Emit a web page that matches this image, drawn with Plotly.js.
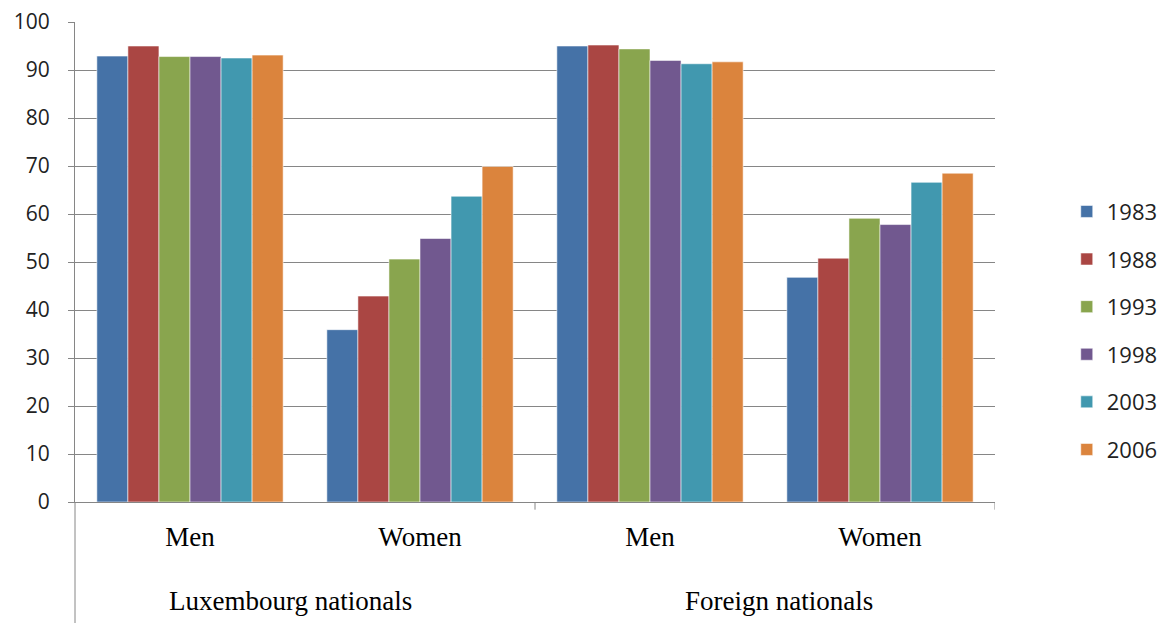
<!DOCTYPE html>
<html>
<head>
<meta charset="utf-8">
<script src="https://cdn.plot.ly/plotly-3.0.1.min.js"></script>
<style>html,body{margin:0;padding:0;background:#fff;}#chart{width:1159px;height:623px;}</style>
</head>
<body>
<div id="chart"></div>
<script>
const groups = ["Luxembourg nationals", "Foreign nationals"];
const genders = ["Men", "Women"];
const years = ["1983", "1988", "1993", "1998", "2003", "2006"];
// values per year: [Lux Men, Lux Women, Foreign Men, Foreign Women]
const v1983 = [92.9, 35.9, 95.0, 46.8];
const v1988 = [95.0, 42.9, 95.2, 50.8];
const v1993 = [92.8, 50.6, 94.4, 59.1];
const v1998 = [92.8, 54.9, 92.0, 57.8];
const v2003 = [92.5, 63.7, 91.3, 66.6];
const v2006 = [93.1, 69.9, 91.7, 68.5];
const seriesValues = [v1983, v1988, v1993, v1998, v2003, v2006];
const colors = ["#4572A7", "#AA4643", "#89A54E", "#71588F", "#4198AF", "#DB843D"];

const xKeys = [];
const xText = [];
groups.forEach(g => genders.forEach(s => { xKeys.push(g + " | " + s); xText.push(s); }));

const traces = years.map((y, i) => ({
  type: "bar",
  name: y,
  x: xKeys,
  y: seriesValues[i],
  legendgroup: "g" + i,
  marker: { color: colors[i], line: { color: "rgba(255,255,255,0.55)", width: 1 } },
  hoverinfo: "x+y+name"
}));

const axisGray = "#868686";
const shapes = [];
// extended left axis line
shapes.push({ type: "line", xref: "paper", yref: "paper", x0: 0, x1: 0, y0: 0, y1: -0.26, line: { color: axisGray, width: 1 } });
// short ticks at group boundaries
groups.forEach((g, gi) => {
  const b = (gi + 1) * genders.length - 0.5;
  shapes.push({ type: "line", xref: "x", yref: "paper", x0: b, x1: b, y0: 0, y1: -0.016, line: { color: axisGray, width: 1 } });
});

const groupShift = [-15, 14];
const annotations = groups.map((g, gi) => ({
  text: g,
  xref: "x", yref: "paper",
  x: gi * genders.length + (genders.length - 1) / 2,
  y: -0.206,
  xshift: groupShift[gi],
  xanchor: "center", yanchor: "middle",
  showarrow: false,
  font: { family: "Liberation Serif, serif", size: 27, color: "#000" }
}));

const layout = {
  width: 1159, height: 623,
  margin: { l: 75, r: 164, t: 22, b: 121, autoexpand: false },
  paper_bgcolor: "#fff", plot_bgcolor: "#fff",
  barmode: "group", bargap: 0.19, bargroupgap: 0,
  showlegend: true,
  legend: {
    x: 1.078, xanchor: "left", y: 0.357, yanchor: "middle",
    font: { family: "Open Sans, sans-serif", size: 22, color: "#222" },
    tracegroupgap: 16, traceorder: "grouped", bgcolor: "rgba(0,0,0,0)"
  },
  xaxis: {
    type: "category", range: [-0.5, xKeys.length - 0.5],
    tickmode: "array", tickvals: xKeys, ticktext: xText,
    ticks: "", showgrid: false, zeroline: false,
    showline: true, linecolor: axisGray, linewidth: 1,
    ticklabelstandoff: 11,
    tickfont: { family: "Liberation Serif, serif", size: 27, color: "#000" }
  },
  yaxis: {
    range: [0, 100], dtick: 10, tick0: 0,
    showgrid: true, gridcolor: axisGray, gridwidth: 1,
    zeroline: false, showline: true, linecolor: axisGray, linewidth: 1,
    ticks: "outside", ticklen: 6, tickcolor: axisGray,
    ticklabelstandoff: 14,
    tickfont: { family: "Open Sans, sans-serif", size: 21, color: "#222" }
  },
  shapes: shapes,
  annotations: annotations
};

Plotly.newPlot("chart", traces, layout, { displayModeBar: false, staticPlot: true });
</script>
</body>
</html>
